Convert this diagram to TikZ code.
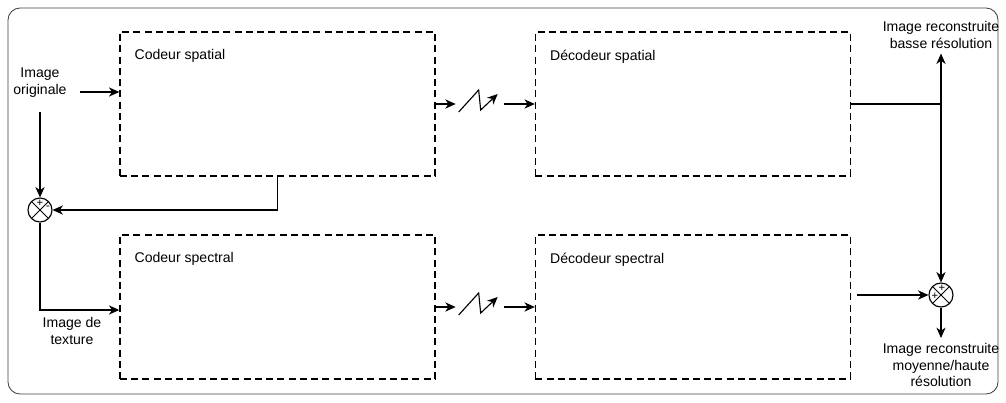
\documentclass[tikz,border=0pt]{standalone}
\usepackage{fontspec}
\setmainfont{Liberation Sans}
\usetikzlibrary{arrows.meta,calc}
\tikzset{
  cadre/.style ={draw=black!75, line width=0.6pt, rounded corners=0.3cm},
  bloc/.style  ={rectangle, draw, dash pattern=on 5pt off 3pt, line width=0.9pt,
                 minimum width=7.875cm, minimum height=3.6cm},
  titre/.style ={anchor=west, inner sep=0pt, font=\fontsize{10}{12}\selectfont},
  txt/.style   ={align=center, font=\fontsize{10}{12}\selectfont},
  somme/.style ={circle, draw, line width=0.8pt, minimum size=0.6cm, inner sep=0pt,
                 path picture={\draw[line width=0.7pt]
                   (path picture bounding box.north west) -- (path picture bounding box.south east)
                   (path picture bounding box.north east) -- (path picture bounding box.south west);}},
  signe/.style ={inner sep=0pt, font=\fontsize{8}{8}\selectfont},
  ar/.style    ={-{Stealth[length=2.6mm, width=2.3mm, inset=0.8mm]}, line width=0.8pt}
}
\begin{document}
\begin{tikzpicture}[x=0.025cm, y=-0.025cm]
\useasboundingbox (0,0) rectangle (1006,402);
\draw[cadre] (8,8) rectangle (998,394);
% blocs
\node[bloc] (cs) at (277.5,104) {};
\node[bloc] (ds) at (693,104) {};
\node[bloc] (cp) at (277.5,307) {};
\node[bloc] (dp) at (693,307) {};
\node[titre] at ($(cs.north west)+(15,25)$) {Codeur spatial};
\node[titre] at ($(ds.north west)+(15,25)$) {Décodeur spatial};
\node[titre] at ($(cp.north west)+(15,25)$) {Codeur spectral};
\node[titre] at ($(dp.north west)+(15,25)$) {Décodeur spectral};
% canal de transmission
\foreach \a/\b in {cs/ds, cp/dp}{
  \draw[ar] (\a.east) -- ++(20,0);
  \draw[ar] ($(\a.east)+(23,8)$) -- ++(20,-22) -- ++(2,20) -- ++(17,-16);
  \draw[ar] ($(\a.east)+(68,0)$) -- (\b.west);
}
% sommateurs
\node[somme] (s1) at (40,210) {};
\node[signe] at ($(s1)+(0,-7)$) {+};
\node[signe] at ($(s1)+(8,-2)$) {-};
\node[somme] (s2) at (941,295) {};
\node[signe] at ($(s2)+(1,-7)$) {+};
\node[signe] at ($(s2)+(-6,1)$) {+};
% textes
\node[txt] (orig) at (40,83) {Image\\originale};
\node[txt] (tex) at (72,331) {Image de\\texture};
\node[txt] (basse) at (941,35) {Image reconstruite\\basse résolution};
\node[txt] (haute) at (941,365) {Image reconstruite\\moyenne/haute\\résolution};
% liaisons
\draw[ar] ($(orig.east)+(8,9)$) -- ($(cs.west)+(0,-12)$);
\draw[ar] ($(s1.north |- orig.south)+(0,9)$) -- (s1.north);
\draw[ar] (cs.south) |- (s1.east);
\draw[ar] (s1.south) |- ($(cp.west)+(0,3)$);
\draw[ar] (ds.east) -| (basse.south);
\draw[ar] (s2.north |- ds.east) -- (s2.north);
\draw[ar] ($(dp.east |- s2)+(6,0)$) -- (s2.west);
\draw[ar] (s2.south) -- (haute.north);
\end{tikzpicture}
\end{document}
